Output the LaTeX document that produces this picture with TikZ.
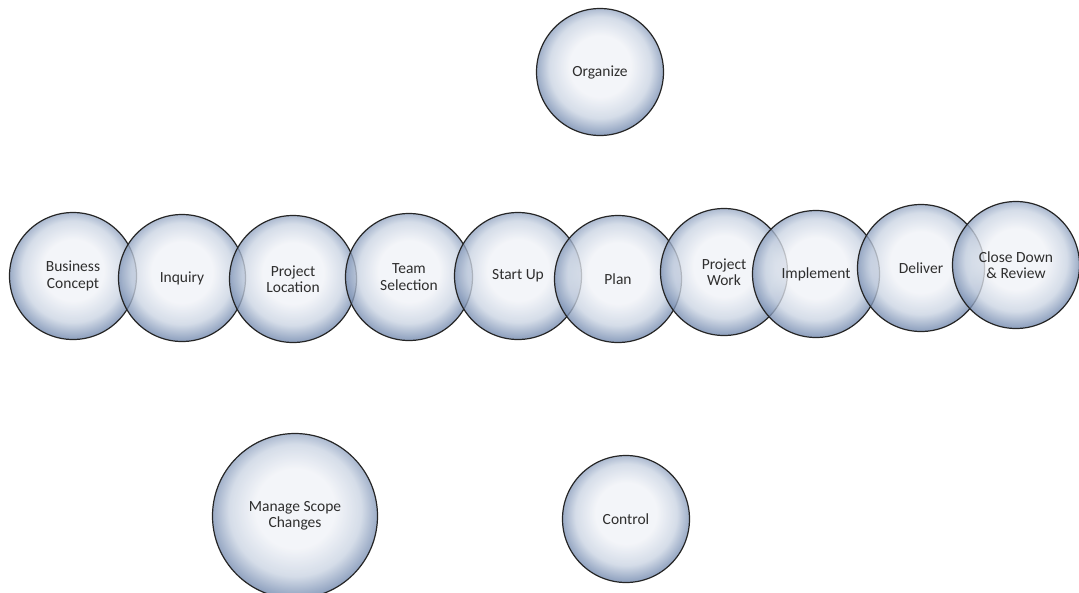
\documentclass[tikz,border=0pt]{standalone}
\usepackage{fontspec}
\setmainfont{Carlito}
\usepackage{tikz}

\definecolor{bubbleedge}{HTML}{7188AE}
\definecolor{bubblemid}{HTML}{C9D3E2}
\definecolor{bubblecore}{HTML}{F0F2F7}
\definecolor{labeltext}{HTML}{2E2E2E}
\pgfdeclareradialshading{bubbleshade}{\pgfpoint{0bp}{3bp}}{%
  color(0bp)=(bubblecore); color(12bp)=(bubblecore); color(20bp)=(bubblemid);
  color(26bp)=(bubbleedge); color(28bp)=(bubbleedge); color(50bp)=(bubbleedge)}

\tikzset{
  bubble/.style={circle, draw=black!85, line width=1.2pt, shading=bubbleshade,
    fill opacity=0.78, text opacity=1, minimum size=127pt, inner sep=0pt,
    align=center, text=labeltext, font=\fontsize{15.5}{16.5}\selectfont},
  bigbubble/.style={bubble, minimum size=165pt}
}

\begin{document}
\begin{tikzpicture}[x=1pt,y=-1pt]
\useasboundingbox (0,0) rectangle (1079,592);

\node[bubble] (organize) at (600,72) {Organize};

\node[bubble] (concept) at (73,276) {Business\\Concept};
\node[bubble] (inquiry) at (182,278) {Inquiry};
\node[bubble] (location) at (293,279) {Project\\Location};
\node[bubble] (team) at (409,277) {Team\\Selection};
\node[bubble] (startup) at (518,276) {Start Up};
\node[bubble] (plan) at (618,279) {Plan};
\node[bubble] (work) at (724,272) {Project\\Work};
\node[bubble] (implement) at (816,274) {Implement};
\node[bubble] (deliver) at (921,268) {Deliver};
\node[bubble] (closedown) at (1016,265) {Close Down\\\& Review};

\node[bigbubble] (scope) at (295,516) {Manage Scope\\Changes};
\node[bubble] (control) at (626,519) {Control};

\end{tikzpicture}
\end{document}
